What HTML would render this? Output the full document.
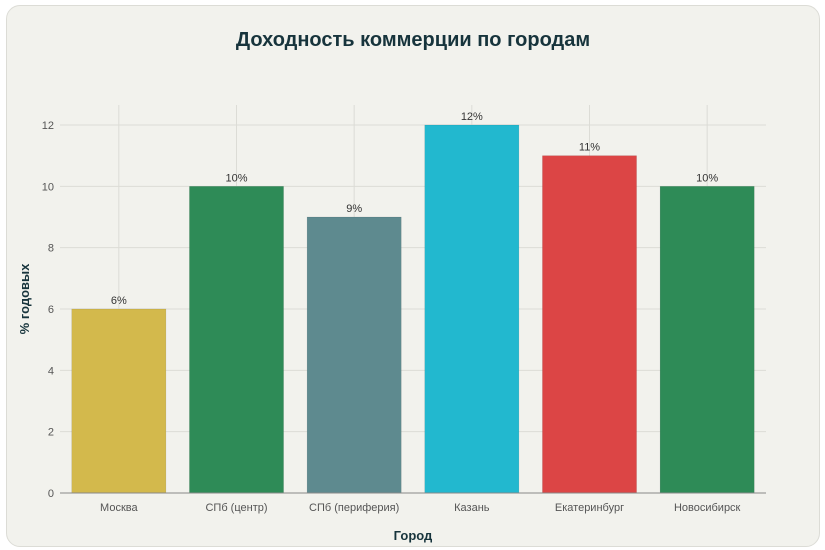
<!DOCTYPE html>
<html><head><meta charset="utf-8"><style>
body{margin:0;background:#fff;}
#card{position:absolute;left:6px;top:5px;width:812px;height:540px;background:#f2f2ed;border:1px solid #dcdcd6;border-radius:14px;}
svg{position:absolute;left:0;top:0;}
text{font-family:"Liberation Sans","DejaVu Sans",sans-serif;}
</style></head><body>
<div id="card"></div>
<svg id="chart" width="825" height="550"></svg>
<script>
const categories=["Москва","СПб (центр)","СПб (периферия)","Казань","Екатеринбург","Новосибирск"];
const values=[6,10,9,12,11,10];
const labels=["6%","10%","9%","12%","11%","10%"];
const colors=["#d3b94c","#2e8b57","#5e8a8f","#22b8cf","#dc4545","#2e8b57"];
const ticks=[0,2,4,6,8,10,12];
const svg=document.getElementById('chart');
const NS='http://www.w3.org/2000/svg';
const x0=60,x1=766,y0=493,yTop=105;
const band=(x1-x0)/categories.length;
function y(v){return y0-v*(368/12);}
function xc(i){return x0+band*(i+0.5);}
function mk(t,a,txt){const e=document.createElementNS(NS,t);for(const k in a)e.setAttribute(k,a[k]);if(txt!==undefined)e.textContent=txt;svg.appendChild(e);return e;}
ticks.forEach(t=>{
 const g=mk('line',{x1:x0,x2:x1,y1:y(t),y2:y(t),stroke:'#dcdcd6','stroke-width':1});
 
 
 const l=mk('text',{x:x0-6,y:y(t)+4,'text-anchor':'end','font-size':11,fill:'#555'},t);
 
 
});
categories.forEach((c,i)=>{
 const g=mk('line',{x1:xc(i),x2:xc(i),y1:yTop,y2:y0,stroke:'#dcdcd6','stroke-width':1});
 
 
});
categories.forEach((c,i)=>{
 const w=band*0.8;
 const b=mk('rect',{x:xc(i)-w/2,y:y(values[i]),width:w,height:y0-y(values[i]),fill:colors[i],stroke:'rgba(0,0,0,0.15)','stroke-width':0.5});
 
 
 const v=mk('text',{x:xc(i),y:y(values[i])-5,'text-anchor':'middle','font-size':11,fill:'#333'},labels[i]);
 
 
 const t=mk('text',{x:xc(i),y:y0+18,'text-anchor':'middle','font-size':11,fill:'#555'},c);
 
 
});
const ax=mk('line',{x1:x0,x2:x1,y1:y0,y2:y0,stroke:'#888','stroke-width':1});


const ti=mk('text',{x:413,y:46,'text-anchor':'middle','font-size':20,'font-weight':'bold',fill:'#17343c'},'Доходность коммерции по городам');


const xt=mk('text',{x:413,y:540,'text-anchor':'middle','font-size':13,'font-weight':'bold',fill:'#17343c'},'Город');


const yt=mk('text',{x:0,y:0,'text-anchor':'middle','font-size':13,'font-weight':'bold',fill:'#17343c',transform:'translate(29,299) rotate(-90)'},'% годовых');


</script>
</body></html>
